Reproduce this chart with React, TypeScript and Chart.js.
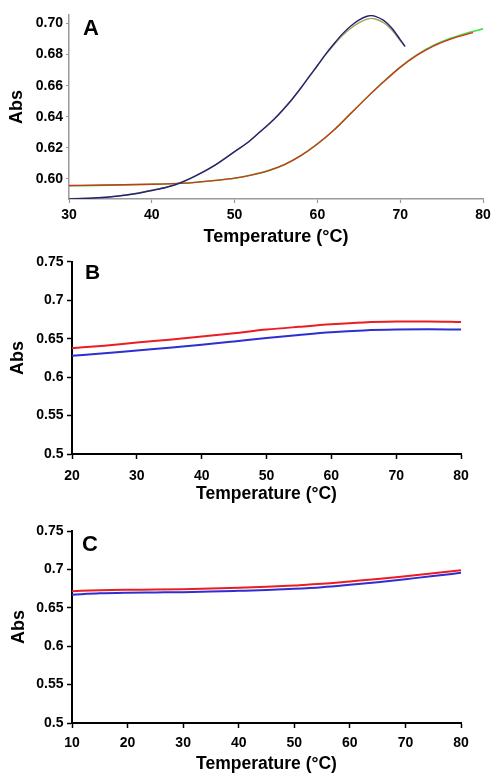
import React, { useEffect, useRef } from 'react';
import { Chart, registerables } from 'chart.js';

Chart.register(...registerables);

const FONT = '"Liberation Sans", Arial, Helvetica, sans-serif';

// ---------- Panel A ----------
const aTempBlue = [30, 33, 36, 38, 40, 42, 43.4, 45, 47.4, 50, 51.5, 53, 54.7, 56.9, 58, 59, 60, 61, 62, 63, 64, 65, 66, 66.5, 67, 68, 69, 70, 70.6];
const aAbsBlue = [0.5872, 0.5877, 0.589, 0.5905, 0.5926, 0.595, 0.5974, 0.6012, 0.6081, 0.6176, 0.6231, 0.63, 0.6381, 0.651, 0.6585, 0.6658, 0.673, 0.6803, 0.687, 0.6932, 0.6983, 0.7022, 0.7047, 0.7051, 0.7046, 0.702, 0.697, 0.6897, 0.6852];
const aTempOlive = [30, 33, 36, 38, 40, 42, 43.4, 45, 47.4, 50, 51.5, 53, 54.7, 56.9, 58, 59, 60, 61, 62, 63, 64, 65, 66, 66.5, 67, 68, 69, 70, 70.5];
const aAbsOlive = [0.5873, 0.5878, 0.5891, 0.5906, 0.5927, 0.5951, 0.5975, 0.6013, 0.6082, 0.6176, 0.6231, 0.63, 0.6381, 0.651, 0.6584, 0.6656, 0.6727, 0.68, 0.6864, 0.6922, 0.6968, 0.7004, 0.7028, 0.7033, 0.7029, 0.7005, 0.6958, 0.689, 0.6856];
const aTempRed = [30, 35, 40, 43.4, 45, 48, 50, 52, 54, 56, 58, 60, 62, 64, 66, 68, 70, 72, 74, 76, 78, 78.8];
const aAbsRed = [0.5958, 0.5961, 0.5966, 0.5972, 0.5977, 0.5992, 0.6005, 0.6025, 0.6052, 0.6092, 0.615, 0.6225, 0.6315, 0.642, 0.6525, 0.6625, 0.6718, 0.6795, 0.6855, 0.6898, 0.693, 0.6942];
const aTempGreen = [30, 35, 40, 43.4, 45, 48, 50, 52, 54, 56, 58, 60, 62, 64, 66, 68, 70, 72, 74, 76, 78, 79, 80];
const aAbsGreen = [0.5956, 0.596, 0.5966, 0.5972, 0.5977, 0.5992, 0.6005, 0.6025, 0.6052, 0.6092, 0.615, 0.6225, 0.6315, 0.642, 0.6526, 0.6627, 0.672, 0.6798, 0.6859, 0.6904, 0.6938, 0.6952, 0.6966];
const aXTicks = [30, 40, 50, 60, 70, 80];
const aYTicks = [0.6, 0.62, 0.64, 0.66, 0.68, 0.7];

// ---------- Panel B ----------
const bTemp = [20, 25, 30, 35, 40, 45, 50, 55, 60, 65, 70, 75, 80];
const bRed = [0.6377, 0.641, 0.6451, 0.6488, 0.6528, 0.6572, 0.6619, 0.6655, 0.6688, 0.6712, 0.6723, 0.6725, 0.6718];
const bBlue = [0.6278, 0.631, 0.6347, 0.6382, 0.6421, 0.6465, 0.6511, 0.655, 0.6585, 0.6608, 0.6619, 0.6622, 0.6619];
const bXTicks = [20, 30, 40, 50, 60, 70, 80];

// ---------- Panel C ----------
const cTemp = [10, 15, 20, 25, 30, 35, 40, 45, 50, 55, 60, 65, 70, 75, 80];
const cRed = [0.6717, 0.6728, 0.6734, 0.6738, 0.6743, 0.675, 0.676, 0.6773, 0.6791, 0.6812, 0.6843, 0.6875, 0.6912, 0.695, 0.699];
const cBlue = [0.667, 0.6688, 0.6696, 0.67, 0.6704, 0.6711, 0.6721, 0.6732, 0.6747, 0.6768, 0.6799, 0.6833, 0.6873, 0.6913, 0.6955];
const cXTicks = [10, 20, 30, 40, 50, 60, 70, 80];

const bcYTicks = [0.5, 0.55, 0.6, 0.65, 0.7, 0.75];

const pts = (xs: number[], ys: number[]) => xs.map((x, i) => ({ x, y: ys[i] }));

const panelLabelPlugin = {
  id: 'panelLabel',
  afterDraw(chart: any, _args: any, opts: any) {
    const { ctx, chartArea } = chart;
    ctx.save();
    ctx.font = `bold ${opts.size}px ${FONT}`;
    ctx.fillStyle = '#000';
    ctx.textAlign = 'left';
    ctx.textBaseline = 'alphabetic';
    ctx.fillText(opts.text, chartArea.left + opts.dx, chartArea.top + opts.dy);
    ctx.restore();
  },
};

function line(data: { x: number; y: number }[], color: string, width: number) {
  return {
    data,
    borderColor: color,
    backgroundColor: color,
    borderWidth: width,
    pointRadius: 0,
    fill: false,
    cubicInterpolationMode: 'monotone',
  };
}

function makeConfig(p: any) {
  return {
    type: 'line',
    data: { datasets: p.datasets },
    plugins: [panelLabelPlugin],
    options: {
      responsive: false,
      animation: false,
      events: [],
      layout: { padding: { top: p.padTop, right: p.padRight, left: 0, bottom: 0 } },
      plugins: {
        legend: { display: false },
        tooltip: { enabled: false },
        panelLabel: p.label,
      },
      scales: {
        x: {
          type: 'linear',
          min: p.xMin,
          max: p.xMax,
          afterBuildTicks: (s: any) => {
            s.ticks = p.xTicks.map((v: number) => ({ value: v }));
          },
          afterFit: (s: any) => {
            s.height = p.xHeight;
          },
          border: { display: true, color: p.axisColor, width: p.axisWidth },
          grid: {
            display: true,
            drawOnChartArea: false,
            drawTicks: true,
            tickLength: p.xTickLen,
            tickColor: p.axisColor,
            tickWidth: p.tickWidth,
          },
          ticks: {
            padding: p.xTickPad,
            color: '#000',
            font: { family: FONT, size: 14, weight: 'bold' },
            maxRotation: 0,
            callback: (v: any) => String(v),
          },
          title: {
            display: true,
            text: 'Temperature (°C)',
            color: '#000',
            font: { family: FONT, size: p.xTitleSize, weight: 'bold' },
            padding: { top: 0, bottom: p.xTitlePad },
          },
        },
        y: {
          type: 'linear',
          min: p.yMin,
          max: p.yMax,
          afterBuildTicks: (s: any) => {
            s.ticks = p.yTicks.map((v: number) => ({ value: v }));
          },
          afterFit: (s: any) => {
            s.width = p.yWidth;
          },
          border: { display: true, color: p.axisColor, width: p.axisWidth },
          grid: {
            display: true,
            drawOnChartArea: false,
            drawTicks: true,
            tickLength: p.yTickLen,
            tickColor: p.axisColor,
            tickWidth: p.tickWidth,
          },
          ticks: {
            padding: p.yTickPad,
            color: '#000',
            font: { family: FONT, size: 14, weight: 'bold' },
            callback: p.yFmt,
          },
          title: {
            display: true,
            text: 'Abs',
            color: '#000',
            font: { family: FONT, size: 18, weight: 'bold' },
            padding: { top: p.yTitlePad, bottom: 0 },
          },
        },
      },
    },
  };
}

const configA = () =>
  makeConfig({
    datasets: [
      line(pts(aTempBlue, aAbsBlue), '#23237a', 1.4),
      line(pts(aTempOlive, aAbsOlive), '#a3a352', 1.4),
      line(pts(aTempRed, aAbsRed), '#d2321e', 1.3),
      line(pts(aTempGreen, aAbsGreen), '#3ce03c', 1.6),
    ],
    padTop: 15,
    padRight: 17,
    xMin: 30,
    xMax: 80,
    xTicks: aXTicks,
    yMin: 0.5871,
    yMax: 0.7055,
    yTicks: aYTicks,
    yFmt: (v: any) => Number(v).toFixed(2),
    axisColor: '#9a9a9a',
    axisWidth: 1.5,
    tickWidth: 1.2,
    xTickLen: 4,
    yTickLen: 3,
    xTickPad: 3.5,
    yTickPad: 3,
    xHeight: 51,
    yWidth: 69,
    xTitleSize: 18,
    xTitlePad: 2,
    yTitlePad: 6,
    label: { text: 'A', size: 22, dx: 14, dy: 20 },
  });

const configB = () =>
  makeConfig({
    datasets: [line(pts(bTemp, bRed), '#ec1c24', 2), line(pts(bTemp, bBlue), '#2e2ed2', 2)],
    padTop: 11,
    padRight: 39,
    xMin: 20,
    xMax: 80,
    xTicks: bXTicks,
    yMin: 0.5,
    yMax: 0.75,
    yTicks: bcYTicks,
    yFmt: (v: any) => String(Number(Number(v).toFixed(2))),
    axisColor: '#000',
    axisWidth: 2,
    tickWidth: 1.5,
    xTickLen: 5,
    yTickLen: 5,
    xTickPad: 8.5,
    yTickPad: 3.5,
    xHeight: 56,
    yWidth: 72,
    xTitleSize: 17.5,
    xTitlePad: 5.5,
    yTitlePad: 7.5,
    label: { text: 'B', size: 21, dx: 13, dy: 17 },
  });

const configC = () =>
  makeConfig({
    datasets: [line(pts(cTemp, cRed), '#ec1c24', 2), line(pts(cTemp, cBlue), '#2e2ed2', 2)],
    padTop: 21,
    padRight: 39,
    xMin: 10,
    xMax: 80,
    xTicks: cXTicks,
    yMin: 0.5,
    yMax: 0.75,
    yTicks: bcYTicks,
    yFmt: (v: any) => String(Number(Number(v).toFixed(2))),
    axisColor: '#000',
    axisWidth: 2,
    tickWidth: 1.5,
    xTickLen: 5,
    yTickLen: 5,
    xTickPad: 6.5,
    yTickPad: 3.5,
    xHeight: 59,
    yWidth: 72,
    xTitleSize: 17.5,
    xTitlePad: 7,
    yTitlePad: 8,
    label: { text: 'C', size: 22, dx: 10, dy: 20 },
  });

function Panel({ top, height, build }: { top: number; height: number; build: () => any }) {
  const ref = useRef<HTMLCanvasElement | null>(null);
  useEffect(() => {
    if (!ref.current) return;
    const chart = new Chart(ref.current, build());
    return () => chart.destroy();
  }, [build]);
  return (
    <canvas
      ref={ref}
      width={500}
      height={height}
      style={{ position: 'absolute', left: 0, top, width: 500, height, display: 'block' }}
    />
  );
}

export default function App() {
  return (
    <div style={{ position: 'absolute', left: 0, top: 0, width: 500, height: 782, background: '#fff', overflow: 'hidden' }}>
      <Panel top={0} height={250} build={configA} />
      <Panel top={250} height={260} build={configB} />
      <Panel top={510} height={272} build={configC} />
    </div>
  );
}
